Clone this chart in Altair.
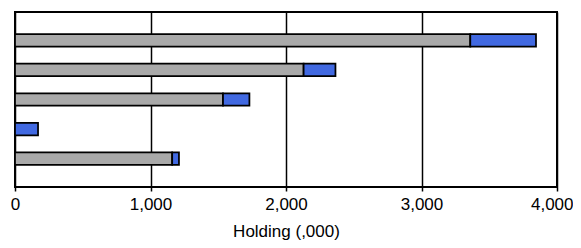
import altair as alt
import pandas as pd

rows = ["1", "2", "3", "4", "5"]
gray_vals = [3360, 2130, 1535, 0, 1160]
blue_vals = [485, 235, 195, 170, 50]
series = ["Gray", "Blue"]
colors = ["#A9A9A9", "#4169E1"]
ticks = [0, 1000, 2000, 3000, 4000]

recs = []
for r, g, b in zip(rows, gray_vals, blue_vals):
    if g > 0:
        recs.append({"row": r, "series": "Gray", "value": g, "ord": 0})
    recs.append({"row": r, "series": "Blue", "value": b, "ord": 1})
df = pd.DataFrame(recs)

FONT = "Liberation Sans"

chart = alt.Chart(df).mark_bar(stroke="black", strokeWidth=1.75).encode(
    x=alt.X("value:Q", stack="zero",
            scale=alt.Scale(domain=[0, 4000], nice=False),
            axis=alt.Axis(values=ticks, format=",.0f", title="Holding (,000)",
                          grid=True, gridColor="black", gridWidth=1.5, gridOpacity=1,
                          domain=False, tickColor="black", tickSize=4, tickWidth=1.5,
                          labelFont=FONT, labelFontSize=17, labelColor="black",
                          labelPadding=5, labelFlush=False,
                          labelAlign=alt.ExprRef("datum.value == 4000 ? 'right' : 'center'"),
                          labelOffset=alt.ExprRef("datum.value == 4000 ? 16 : 0"),
                          titleFont=FONT, titleFontSize=17, titleFontWeight="normal",
                          titleColor="black", titlePadding=11)),
    y=alt.Y("row:N", sort=rows, axis=None,
            scale=alt.Scale(paddingInner=0.58, paddingOuter=0.746)),
    color=alt.Color("series:N", scale=alt.Scale(domain=series, range=colors), legend=None),
    order=alt.Order("ord:Q"),
).properties(
    width=542, height=175,
    autosize=alt.AutoSizeParams(type="none"),
    padding={"left": 7, "top": 4, "right": 16, "bottom": 53},
).configure_view(
    stroke="black", strokeWidth=2
)

chart.save("out.html", embed_options={"renderer": "svg", "actions": False})
